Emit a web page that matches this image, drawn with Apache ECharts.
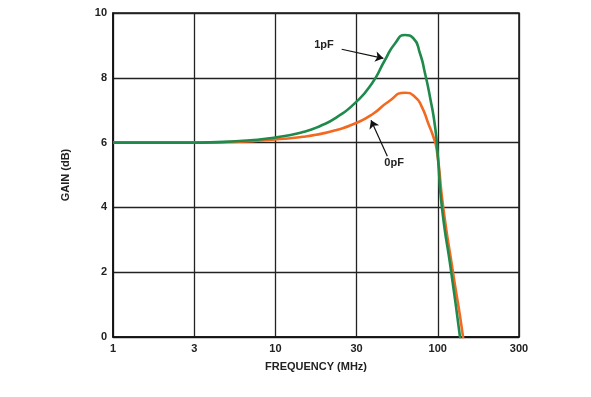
<!DOCTYPE html>
<html>
<head>
<meta charset="utf-8">
<script src="https://cdn.jsdelivr.net/npm/echarts@6/dist/echarts.min.js"></script>
<style>
  html, body { margin: 0; padding: 0; background: #fff; }
  #chart { width: 591px; height: 397px; }
</style>
</head>
<body>
<div id="chart"></div>
<script>
// x axis is a half-decade grid: 1, 3, 10, 30, 100, 300 (3 sits at sqrt(10))
const xTickLabels = ['1', '3', '10', '30', '100', '300'];

// 1pF curve
const freq1pF = [1, 3, 6, 10, 14.8, 19, 23.8, 30.9, 39.2, 47.3, 54.5, 62.8, 70.7, 77.7, 83.4, 89.5, 96.2, 100, 106, 121, 137, 145];
const gain1pF = [6.0, 6.0, 6.05, 6.16, 6.33, 6.52, 6.78, 7.22, 7.82, 8.55, 9.06, 9.32, 9.22, 8.75, 8.14, 7.41, 6.49, 5.6, 4.0, 2.0, 0.0, -1.0];

// 0pF curve
const freq0pF = [1, 3, 6, 10, 14.8, 19, 23.8, 30.9, 39.2, 49.6, 62.8, 72.4, 79.6, 87.4, 93.9, 98.6, 108, 124, 143, 150];
const gain0pF = [6.0, 6.0, 6.03, 6.1, 6.18, 6.27, 6.39, 6.59, 6.86, 7.26, 7.54, 7.41, 7.11, 6.59, 6.18, 5.77, 4.0, 2.0, 0.0, -1.0];

const chart = echarts.init(document.getElementById('chart'));
const font = '"Liberation Sans", Arial, sans-serif';

chart.setOption({
  animation: false,
  grid: { left: 113, right: 72, top: 13, bottom: 60, show: true, borderColor: '#111', borderWidth: 1.5 },
  xAxis: {
    type: 'log', logBase: Math.sqrt(10), min: 1, max: Math.pow(10, 2.5), splitNumber: 5,
    name: 'FREQUENCY (MHz)', nameLocation: 'middle', nameGap: 24,
    nameTextStyle: { color: '#222', fontFamily: font, fontWeight: 'bold', fontSize: 11 },
    axisLine: { lineStyle: { color: '#111', width: 1.5 } },
    axisTick: { show: false },
    minorTick: { show: false },
    axisLabel: {
      color: '#222', fontFamily: font, fontWeight: 'bold', fontSize: 11, margin: 6,
      formatter: v => xTickLabels[Math.round(Math.log10(v) * 2)]
    },
    splitLine: { show: true, lineStyle: { color: '#222', width: 1.3 } }
  },
  yAxis: {
    type: 'value', min: 0, max: 10, interval: 2,
    name: 'GAIN (dB)', nameLocation: 'middle', nameGap: 42,
    nameTextStyle: { color: '#222', fontFamily: font, fontWeight: 'bold', fontSize: 11 },
    axisLine: { show: true, lineStyle: { color: '#111', width: 1.5 } },
    axisTick: { show: false },
    axisLabel: { color: '#222', fontFamily: font, fontWeight: 'bold', fontSize: 11, margin: 6 },
    splitLine: { show: true, lineStyle: { color: '#222', width: 1.3 } }
  },
  series: [
    {
      name: '0pF', type: 'line', smooth: 0.6, showSymbol: false, clip: true,
      lineStyle: { color: '#f26a21', width: 2.6 },
      data: freq0pF.map((f, i) => [f, gain0pF[i]]),
      markLine: {
        silent: true, symbol: ['none', 'arrow'], symbolSize: 8,
        lineStyle: { color: '#111', width: 1.2, type: 'solid' }, label: { show: false },
        data: [[{ coord: [48.9, 5.58] }, { coord: [38.8, 6.69] }]]
      },
      markPoint: {
        silent: true, symbol: 'circle', symbolSize: 0,
        label: { show: true, position: 'inside', formatter: '0pF', color: '#222', fontFamily: font, fontWeight: 'bold', fontSize: 11 },
        data: [{ coord: [53.8, 5.36] }]
      }
    },
    {
      name: '1pF', type: 'line', smooth: 0.6, showSymbol: false, clip: true,
      lineStyle: { color: '#1f8a4c', width: 2.6 },
      data: freq1pF.map((f, i) => [f, gain1pF[i]]),
      markLine: {
        silent: true, symbol: ['none', 'arrow'], symbolSize: 8,
        lineStyle: { color: '#111', width: 1.2, type: 'solid' }, label: { show: false },
        data: [[{ coord: [25.6, 8.88] }, { coord: [46.2, 8.6] }]]
      },
      markPoint: {
        silent: true, symbol: 'circle', symbolSize: 0,
        label: { show: true, position: 'inside', formatter: '1pF', color: '#222', fontFamily: font, fontWeight: 'bold', fontSize: 11 },
        data: [{ coord: [19.9, 9.01] }]
      }
    }
  ]
});
</script>
</body>
</html>
